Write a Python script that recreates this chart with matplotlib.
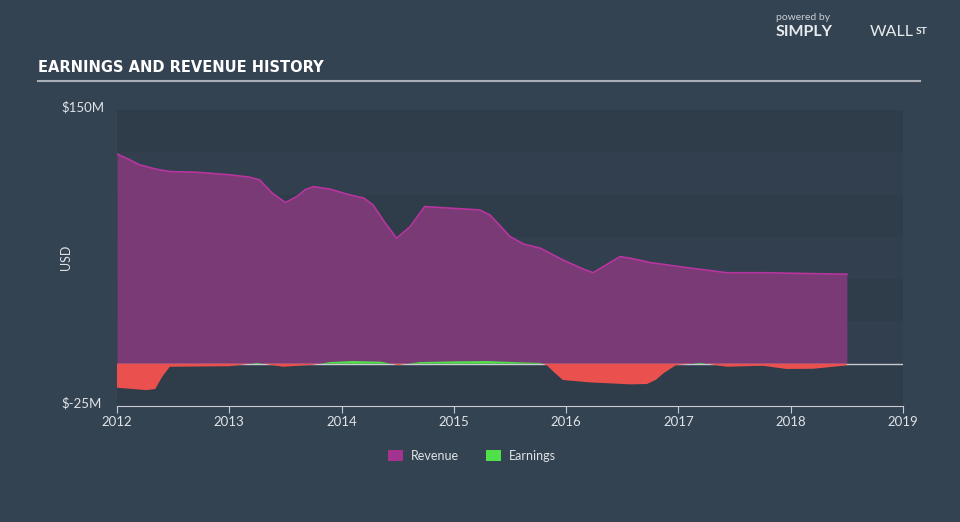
import matplotlib
matplotlib.use("Agg")
import matplotlib.pyplot as plt
from matplotlib.patches import Patch

# Data (year as decimal, values in $M)
rev_years = [2012.0, 2012.1, 2012.2, 2012.35, 2012.47, 2012.71, 2013.0, 2013.18, 2013.27,
             2013.38, 2013.5, 2013.6, 2013.68, 2013.75, 2013.9, 2014.05, 2014.2, 2014.28,
             2014.38, 2014.49, 2014.61, 2014.74, 2014.99, 2015.23, 2015.32, 2015.42, 2015.5,
             2015.62, 2015.77, 2015.97, 2016.15, 2016.24, 2016.33, 2016.48, 2016.57, 2016.75,
             2017.01, 2017.43, 2017.75, 2018.5]
revenue = [124, 121, 117.6, 115, 113.6, 113.2, 111.7, 110.3, 108.7,
           101, 95.3, 98.8, 103, 104.7, 103.2, 100.2, 97.9, 93.9,
           84, 74.2, 81, 92.9, 91.9, 90.9, 88, 81, 75.2,
           70.8, 68.3, 61.4, 56, 53.8, 57.4, 63.3, 62.4, 59.8,
           57.4, 53.8, 53.8, 52.9]

earn_years = [2012.0, 2012.26, 2012.34, 2012.4, 2012.47, 2013.0, 2013.25, 2013.48, 2013.75,
              2013.9, 2014.1, 2014.35, 2014.5, 2014.7, 2015.0, 2015.3, 2015.6, 2015.77,
              2015.83, 2015.9, 2015.97, 2016.2, 2016.57, 2016.72, 2016.8, 2016.87, 2016.98,
              2017.2, 2017.43, 2017.75, 2017.96, 2018.2, 2018.5]
earnings = [-14.2, -15.6, -15.0, -8.0, -1.8, -1.5, 0.5, -1.8, -0.6,
            1.0, 1.6, 1.2, -0.8, 1.0, 1.4, 1.6, 0.8, 0.5,
            -1.0, -5.5, -9.6, -11.0, -12.2, -12.0, -9.5, -5.5, -0.8,
            0.5, -1.8, -1.2, -3.1, -3.0, -1.0]

x_ticks = [2012, 2013, 2014, 2015, 2016, 2017, 2018, 2019]

BG = '#344352'
TEXT = '#dfe3e8'
REV_FILL = '#7a3a76'
REV_LINE = '#b8359f'
GREEN = '#4fe04a'
RED = '#e9504e'

fig = plt.figure(figsize=(9.6, 5.22), dpi=100)
fig.patch.set_facecolor(BG)
ax = fig.add_axes([117 / 960, 1 - 406 / 522, 786 / 960, 296 / 522])
ax.set_facecolor('#303e4c')

ymin, ymax = -25, 150
# alternating horizontal bands, very subtle
band_cols = ['#2f3c4a', '#323f4e']
for i, lo in enumerate(range(125, -50, -25)):
    ax.axhspan(lo, lo + 25, color=band_cols[i % 2], zorder=0, lw=0)

ax.fill_between(rev_years, 0, revenue, color=REV_FILL, lw=0, zorder=2)
ax.plot(rev_years, revenue, color=REV_LINE, lw=1.2, zorder=3, solid_joinstyle='round')

ax.fill_between(earn_years, 0, earnings, where=[e >= 0 for e in earnings],
                interpolate=True, color=GREEN, lw=0, zorder=4)
ax.fill_between(earn_years, 0, earnings, where=[e < 0 for e in earnings],
                interpolate=True, color=RED, lw=0, zorder=4)
ax.axhline(0, color='#c8ccd2', lw=1, zorder=3.5)

ax.set_xlim(2012, 2019)
ax.set_ylim(ymin, ymax)
ax.set_xticks(x_ticks)
ax.set_xticklabels([str(t) for t in x_ticks], color=TEXT, fontsize=9.5, family='Lato')
ax.tick_params(axis='x', length=5, color='#c8ccd2', pad=2)
ax.set_yticks([])
for s in ['top', 'right', 'left']:
    ax.spines[s].set_visible(False)
ax.spines['bottom'].set_color('#c8ccd2')

fig.text(61 / 960, 1 - 107 / 522, '$150M', color=TEXT, fontsize=9.5, family='Lato',
         ha='left', va='center')
fig.text(61 / 960, 1 - 403 / 522, '$-25M', color=TEXT, fontsize=9.5, family='Lato',
         ha='left', va='center')
fig.text(66 / 960, 1 - 257 / 522, 'USD', color=TEXT, fontsize=9, family='Lato',
         rotation=90, ha='center', va='center')

# title and rule
fig.text(38 / 960, 1 - 68 / 522, 'EARNINGS AND REVENUE HISTORY', color='white',
         fontsize=10.5, fontweight='bold', family='DejaVu Sans',
         ha='left', va='center')
fig.add_artist(plt.Line2D([38 / 960, 920 / 960], [1 - 81 / 522] * 2, color='#a9b0b8', lw=1.5))

# branding
fig.text(776 / 960, 1 - 18 / 522, 'powered by', color='#c9ced4', fontsize=7.5,
         family='Lato', ha='left', va='center')
fig.text(776 / 960, 1 - 32 / 522, 'SIMPLY', color='#e8ebee', fontsize=11.5,
         fontweight='bold', family='Lato', ha='left', va='center')
fig.text(870 / 960, 1 - 32 / 522, 'WALL', color='#e8ebee', fontsize=11.5,
         family='Lato', ha='left', va='center')
fig.text(916 / 960, 1 - 31 / 522, 'ST', color='#e8ebee', fontsize=7.5,
         fontweight='bold', family='Lato', ha='left', va='center')

handles = [Patch(facecolor='#a3338f', label='Revenue'),
           Patch(facecolor=GREEN, label='Earnings')]
leg = fig.legend(handles=handles, loc='center', bbox_to_anchor=(472 / 960, 1 - 456 / 522),
                 ncol=2, frameon=False, handlelength=1.2, handleheight=1.0,
                 columnspacing=2.2, handletextpad=0.6, prop={'family': 'Lato', 'size': 9})
for t in leg.get_texts():
    t.set_color(TEXT)

plt.savefig('out.png', dpi=100, facecolor=BG)
